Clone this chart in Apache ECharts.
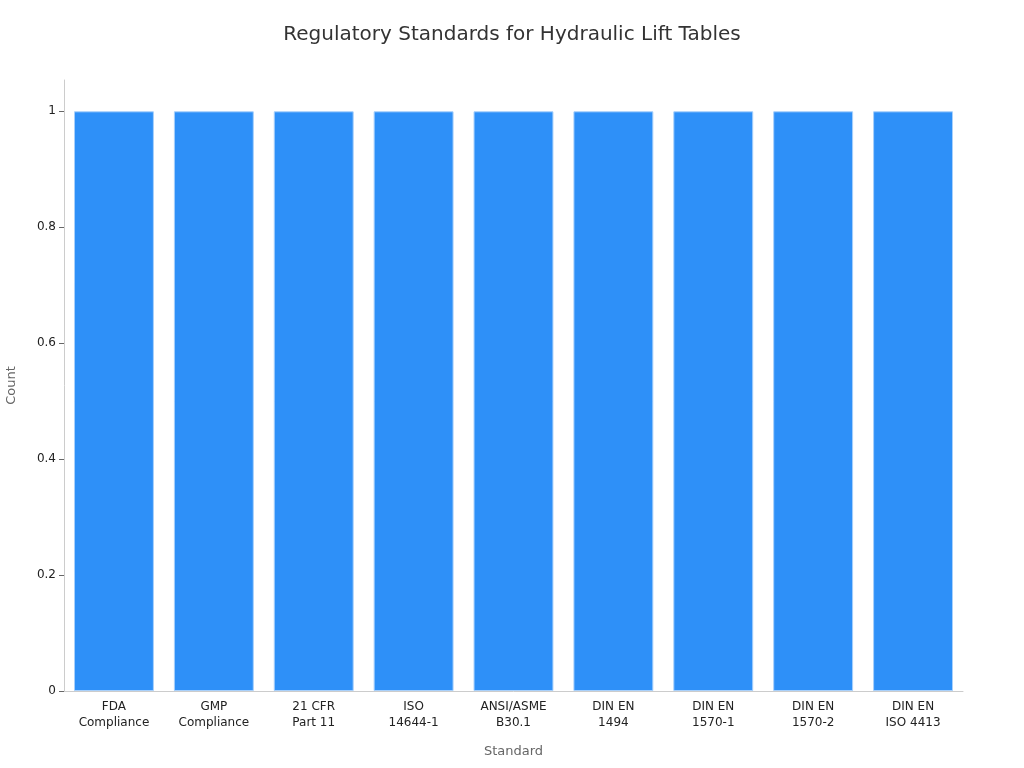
<!DOCTYPE html>
<html><head><meta charset="utf-8">
<script src="https://cdn.jsdelivr.net/npm/echarts@6/dist/echarts.min.js"></script>
<style>html,body{margin:0;padding:0;background:#fff}#c{width:1024px;height:768px}</style>
</head><body><div id="c"></div>
<script>
const categories = ["FDA\nCompliance","GMP\nCompliance","21 CFR\nPart 11","ISO\n14644-1","ANSI/ASME\nB30.1","DIN EN\n1494","DIN EN\n1570-1","DIN EN\n1570-2","DIN EN\nISO 4413"];
const counts = [1,1,1,1,1,1,1,1,1];
const yTicks = [0,0.2,0.4,0.6,0.8,1];

const chart = echarts.init(document.getElementById('c'));
const font = 'DejaVu Sans';
chart.setOption({
  animation:false,
  textStyle:{fontFamily:font},
  title:{text:'Regulatory Standards for Hydraulic Lift Tables',left:'center',top:20,
    textStyle:{fontFamily:font,fontSize:20,fontWeight:'normal',color:'#333'}},
  grid:{left:64,right:61,top:80,bottom:77,containLabel:false,outerBoundsMode:'none'},
  xAxis:{type:'category',data:categories,name:'Standard',nameLocation:'middle',nameGap:54,
    nameTextStyle:{fontFamily:font,fontSize:13,color:'#666'},
    axisLine:{lineStyle:{color:'#ccc'}},axisTick:{alignWithLabel:true,lineStyle:{color:'#666'}},
    axisLabel:{fontFamily:font,fontSize:12,color:'#222',lineHeight:16,interval:0}},
  yAxis:{type:'value',min:0,max:1.054,name:'Count',nameLocation:'middle',nameGap:46,
    nameTextStyle:{fontFamily:font,fontSize:13,color:'#666'},
    axisLine:{show:true,lineStyle:{color:'#ccc'}},
    splitLine:{show:false},
    axisLabel:{fontFamily:font,fontSize:12,color:'#222',margin:8,
      customValues:yTicks,formatter:v=>String(Math.round(v*10)/10)},
    axisTick:{show:true,customValues:yTicks,lineStyle:{color:'#666'}}},
  series:[{type:'bar',data:counts,barCategoryGap:'20%',
    itemStyle:{color:'#2e90f8',borderColor:'#a8d0fb',borderWidth:1}}]
});
</script></body></html>
